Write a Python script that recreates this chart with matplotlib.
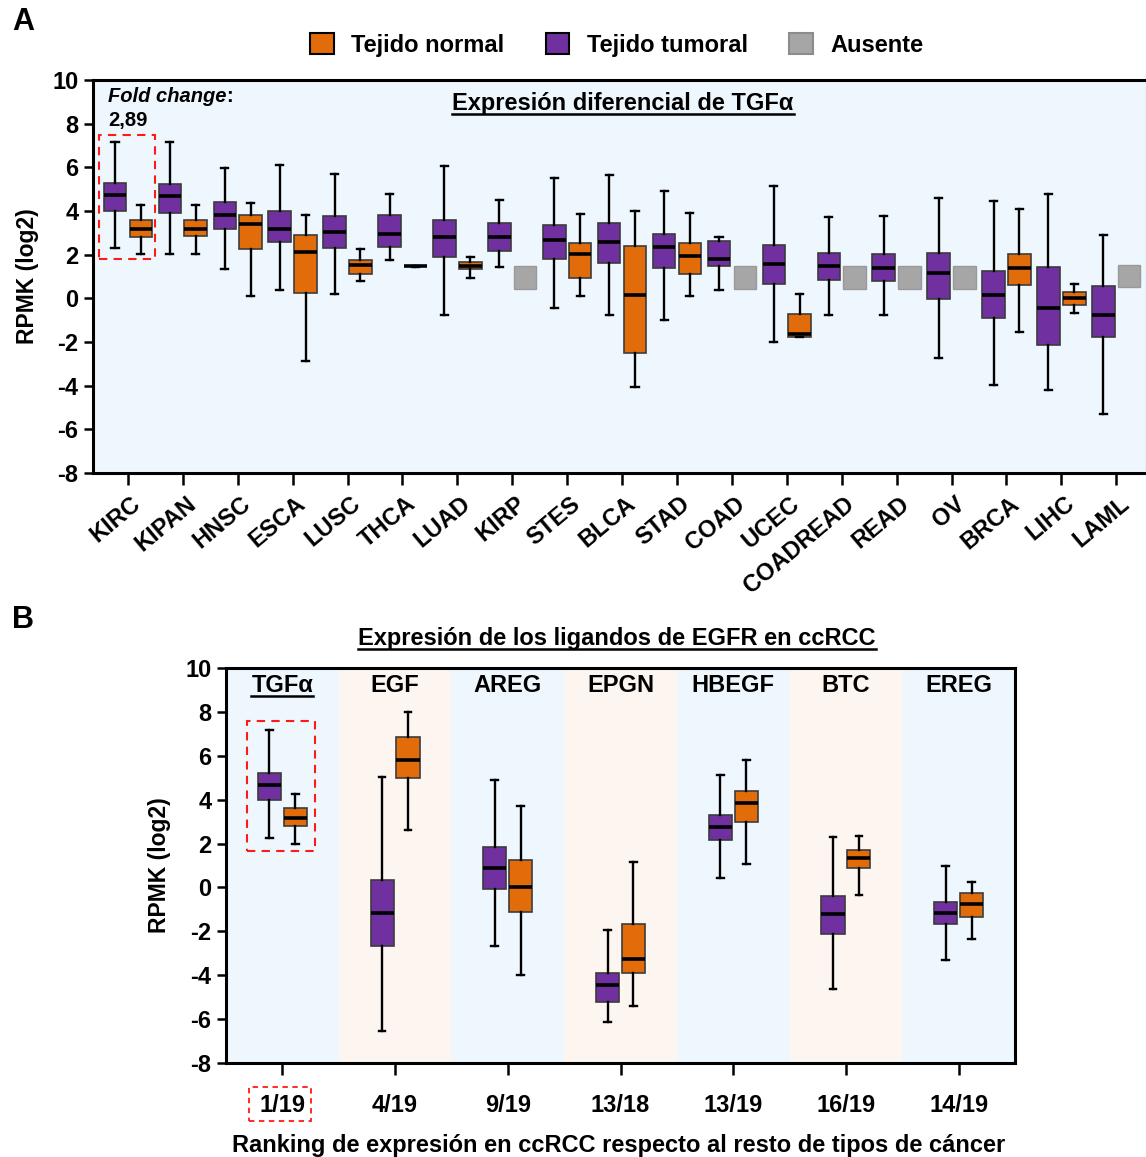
import matplotlib
matplotlib.use('Agg')
import matplotlib.pyplot as plt
import matplotlib.transforms as mtransforms
from matplotlib.patches import Patch, Rectangle
from matplotlib.lines import Line2D

plt.rcParams['font.family'] = ['Liberation Sans', 'DejaVu Sans']
plt.rcParams['font.weight'] = 'bold'
plt.rcParams['axes.unicode_minus'] = False

# ---------------- Panel A data ----------------
cancers = ["KIRC", "KIPAN", "HNSC", "ESCA", "LUSC", "THCA", "LUAD", "KIRP", "STES", "BLCA",
           "STAD", "COAD", "UCEC", "COADREAD", "READ", "OV", "BRCA", "LIHC", "LAML"]
# tumour tissue: lower whisker, Q1, median, Q3, upper whisker
tum_lo  = [2.29, 2.03, 1.36, 0.40, 0.21, 1.75, -0.75, 1.45, -0.43, -0.78, -0.99, 0.37, -2.00, -0.75, -0.75, -2.75, -3.97, -4.19, -5.28]
tum_q1  = [4.01, 3.92, 3.17, 2.56, 2.30, 2.35, 1.91, 2.17, 1.82, 1.62, 1.39, 1.46, 0.66, 0.82, 0.78, -0.05, -0.88, -2.12, -1.75]
tum_med = [4.71, 4.67, 3.80, 3.19, 3.02, 2.93, 2.79, 2.79, 2.65, 2.56, 2.35, 1.82, 1.56, 1.46, 1.39, 1.17, 0.15, -0.46, -0.76]
tum_q3  = [5.26, 5.22, 4.39, 4.00, 3.75, 3.83, 3.60, 3.43, 3.36, 3.43, 2.96, 2.61, 2.44, 2.07, 2.03, 2.07, 1.25, 1.43, 0.55]
tum_hi  = [7.18, 7.18, 5.95, 6.09, 5.70, 4.78, 6.04, 4.51, 5.52, 5.66, 4.90, 2.81, 5.13, 3.74, 3.78, 4.61, 4.45, 4.76, 2.90]
# normal tissue (None = absent)
nor_lo  = [2.03, 2.03, 0.09, -2.85, 0.81, 1.45, 0.92, None, 0.09, -4.06, 0.09, None, -1.75, None, None, None, -1.53, -0.66, None]
nor_q1  = [2.79, 2.84, 2.26, 0.26, 1.13, 1.46, 1.34, None, 0.95, -2.50, 1.13, None, -1.75, None, None, None, 0.59, -0.32, None]
nor_med = [3.19, 3.19, 3.40, 2.14, 1.53, 1.46, 1.49, None, 2.04, 0.15, 1.95, None, -1.63, None, None, None, 1.39, 0.02, None]
nor_q3  = [3.60, 3.60, 3.83, 2.91, 1.77, 1.47, 1.66, None, 2.52, 2.38, 2.52, None, -0.72, None, None, None, 2.03, 0.27, None]
nor_hi  = [4.29, 4.29, 4.38, 3.83, 2.24, 1.48, 1.89, None, 3.86, 3.98, 3.89, None, 0.21, None, None, None, 4.07, 0.67, None]
# "absent" markers (grey squares): bottom, top
absent_cat = ["KIRP", "COAD", "COADREAD", "READ", "OV", "LAML"]
absent_bot = [0.43, 0.43, 0.43, 0.43, 0.43, 0.50]
absent_top = [1.46, 1.46, 1.46, 1.46, 1.46, 1.51]
fold_change = "2,89"

# ---------------- Panel B data ----------------
ligands = ["TGFα", "EGF", "AREG", "EPGN", "HBEGF", "BTC", "EREG"]
ranks = ["1/19", "4/19", "9/19", "13/18", "13/19", "16/19", "14/19"]
btum_lo  = [2.26, -6.55, -2.65, -6.15, 0.42, -4.61, -3.30]
btum_q1  = [3.97, -2.65, -0.09, -5.21, 2.15, -2.11, -1.67]
btum_med = [4.68, -1.15, 0.89, -4.44, 2.76, -1.23, -1.15]
btum_q3  = [5.23, 0.33, 1.85, -3.88, 3.29, -0.41, -0.68]
btum_hi  = [7.18, 5.05, 4.88, -1.94, 5.14, 2.30, 1.00]
bnor_lo  = [2.00, 2.61, -3.98, -5.42, 1.05, -0.35, -2.33]
bnor_q1  = [2.82, 4.98, -1.11, -3.91, 2.98, 0.89, -1.36]
bnor_med = [3.17, 5.82, 0.03, -3.27, 3.85, 1.33, -0.76]
bnor_q3  = [3.64, 6.85, 1.27, -1.67, 4.41, 1.71, -0.24]
bnor_hi  = [4.27, 8.00, 3.71, 1.18, 5.83, 2.36, 0.23]

PURPLE = '#7030A0'
ORANGE = '#E36C0A'
GREY = '#A6A6A6'
BLUE_BG = '#EFF7FE'
PEACH_BG = '#FDF5F0'
RED = '#FF1A1A'

TICK_FS = 17
LAB_FS = 16.5
TITLE_FS = 17


def make_stats(lo, q1, med, q3, hi):
    out = []
    for a, b, c, d, e in zip(lo, q1, med, q3, hi):
        out.append(dict(whislo=a, q1=b, med=c, q3=d, whishi=e, fliers=[]))
    return out


def draw_boxes(ax, stats, positions, color, width, capw):
    ax.bxp(stats, positions=positions, widths=width, capwidths=capw,
           patch_artist=True, showfliers=False, manage_ticks=False,
           boxprops=dict(facecolor=color, edgecolor='#3C3C3C', linewidth=1.2),
           medianprops=dict(color='black', linewidth=2.6, solid_capstyle='butt'),
           whiskerprops=dict(color='black', linewidth=1.7),
           capprops=dict(color='black', linewidth=1.7), zorder=3)


fig = plt.figure(figsize=(11.46, 11.57), dpi=100)

# ================= Panel A =================
axA = fig.add_axes([93 / 1146, 1 - 473 / 1157, 1054 / 1146, 393 / 1157])
axA.set_facecolor(BLUE_BG)
n = len(cancers)
xs = list(range(n))
off = 0.235
wA = 0.41
draw_boxes(axA, make_stats(tum_lo, tum_q1, tum_med, tum_q3, tum_hi),
           [x - off for x in xs], PURPLE, wA, 0.13)
idx_n = [i for i in xs if nor_med[i] is not None]
draw_boxes(axA, make_stats([nor_lo[i] for i in idx_n], [nor_q1[i] for i in idx_n],
                           [nor_med[i] for i in idx_n], [nor_q3[i] for i in idx_n],
                           [nor_hi[i] for i in idx_n]),
           [i + off for i in idx_n], ORANGE, wA, 0.13)
ab_x = [cancers.index(c) + off for c in absent_cat]
axA.bar(ab_x, [t - b for t, b in zip(absent_top, absent_bot)], bottom=absent_bot,
        width=wA, color=GREY, edgecolor='#999999', linewidth=1.0, zorder=3)

axA.set_xlim(-0.636, 18.56)
axA.set_ylim(-8, 10)
axA.set_yticks(range(-8, 11, 2))
axA.set_xticks(xs)
axA.set_xticklabels([])
lab_tr = axA.get_xaxis_transform() + mtransforms.ScaledTranslation(10 / 100, -28 / 100, fig.dpi_scale_trans)
for i, c in enumerate(cancers):
    axA.text(i, 0, c, transform=lab_tr, rotation=40, ha='right', va='center',
             rotation_mode='anchor', fontsize=TICK_FS, fontweight='bold', clip_on=False)
axA.tick_params(axis='x', length=8.5, width=1.8, pad=6, labelsize=TICK_FS)
axA.tick_params(axis='y', length=6.5, width=1.8, pad=4, labelsize=TICK_FS)
for s in axA.spines.values():
    s.set_linewidth(2.2)
axA.set_ylabel("RPMK (log2)", fontsize=LAB_FS, fontweight='bold')
axA.yaxis.set_label_coords(-0.051, 0.5)

# red dashed highlight around KIRC
axA.add_patch(Rectangle((-0.527, 1.80), 1.021, 5.69, fill=False, edgecolor=RED,
                        linestyle=(0, (4, 3)), linewidth=1.5, zorder=4, clip_on=False))
# fold change annotation
t_fc = axA.text(0.014, 0.957, "Fold change", transform=axA.transAxes, fontsize=14.5,
                fontstyle='italic', fontweight='bold', va='center', ha='left')
axA.annotate(":", xy=(1, 0.5), xycoords=t_fc, va='center', ha='left', fontsize=14.5, fontweight='bold')
axA.text(0.014, 0.898, fold_change, transform=axA.transAxes, fontsize=14.5,
         fontweight='bold', va='center', ha='left')
titleA = axA.text(0.503, 0.924, "Expresión diferencial de TGFα", transform=axA.transAxes,
                  fontsize=TITLE_FS, fontweight='bold', ha='center', va='baseline')

# legend
handles = [Patch(facecolor=ORANGE, edgecolor='black', linewidth=1.5),
           Patch(facecolor=PURPLE, edgecolor='black', linewidth=1.5),
           Patch(facecolor=GREY, edgecolor='#8C8C8C', linewidth=1.5)]
fig.legend(handles, ["Tejido normal", "Tejido tumoral", "Ausente"], loc='center',
           bbox_to_anchor=(617 / 1146, 1 - 45 / 1157), ncol=3, frameon=False,
           prop=dict(size=17, weight='bold'), handlelength=1.0, handleheight=1.0,
           handletextpad=0.75, columnspacing=1.75)
fig.text(12 / 1146, 1 - 22 / 1157, "A", fontsize=22, fontweight='bold', va='center', ha='left')
fig.text(12 / 1146, 1 - 620 / 1157, "B", fontsize=22, fontweight='bold', va='center', ha='left')

# ================= Panel B =================
axB = fig.add_axes([226 / 1146, 1 - 1063 / 1157, 789 / 1146, 395 / 1157])
m = len(ligands)
for i in range(m):
    axB.axvspan(i - 0.5, i + 0.5, color=BLUE_BG if i % 2 == 0 else PEACH_BG, zorder=0, linewidth=0)
offB = 0.115
wB = 0.205
draw_boxes(axB, make_stats(btum_lo, btum_q1, btum_med, btum_q3, btum_hi),
           [i - offB for i in range(m)], PURPLE, wB, 0.06)
draw_boxes(axB, make_stats(bnor_lo, bnor_q1, bnor_med, bnor_q3, bnor_hi),
           [i + offB for i in range(m)], ORANGE, wB, 0.06)
axB.set_xlim(-0.5, m - 0.5)
axB.set_ylim(-8, 10)
axB.set_yticks(range(-8, 11, 2))
axB.set_xticks(range(m))
axB.set_xticklabels(ranks)
axB.tick_params(axis='x', length=8.5, width=1.8, pad=14, labelsize=TICK_FS)
axB.tick_params(axis='y', length=6.5, width=1.8, pad=4, labelsize=TICK_FS)
for s in axB.spines.values():
    s.set_linewidth(2.2)
axB.set_ylabel("RPMK (log2)", fontsize=LAB_FS, fontweight='bold')
axB.yaxis.set_label_coords(-0.070, 0.5)
lig_texts = []
for i, g in enumerate(ligands):
    lig_texts.append(axB.text(i, 0.938, g, transform=axB.get_xaxis_transform(), ha='center',
                              va='baseline', fontsize=TITLE_FS, fontweight='bold'))
axB.text(0.498, -0.208, "Ranking de expresión en ccRCC respecto al resto de tipos de cáncer",
         transform=axB.transAxes, ha='center', va='center', fontsize=TITLE_FS, fontweight='bold')
titleB = fig.text(617 / 1146, 1 - 645 / 1157, "Expresión de los ligandos de EGFR en ccRCC",
                  ha='center', va='baseline', fontsize=TITLE_FS, fontweight='bold')
# red dashed highlights in panel B
axB.add_patch(Rectangle((-0.313, 1.65), 0.606, 5.93, fill=False, edgecolor=RED,
                        linestyle=(0, (4, 3)), linewidth=1.5, zorder=4, clip_on=False))
blend = mtransforms.blended_transform_factory(axB.transData, axB.transAxes)
axB.add_patch(Rectangle((-0.30, -0.147), 0.557, 0.086, transform=blend, fill=False,
                        edgecolor=RED, linestyle=(0, (3, 2.5)), linewidth=1.3, clip_on=False))


# underline helper
def underline(txt, lw=1.8, gap=4):
    fig.canvas.draw()
    r = fig.canvas.get_renderer()
    bb = txt.get_window_extent(renderer=r)
    base_y = txt.get_transform().transform(txt.get_position())[1]
    inv = fig.transFigure.inverted()
    (x0, y0), (x1, _) = inv.transform([[bb.x0, base_y - gap], [bb.x1, base_y - gap]])
    fig.add_artist(Line2D([x0, x1], [y0, y0], transform=fig.transFigure, color='black', lw=lw))


underline(titleA)
underline(titleB)
underline(lig_texts[0])

fig.savefig("out.png", dpi=100)
